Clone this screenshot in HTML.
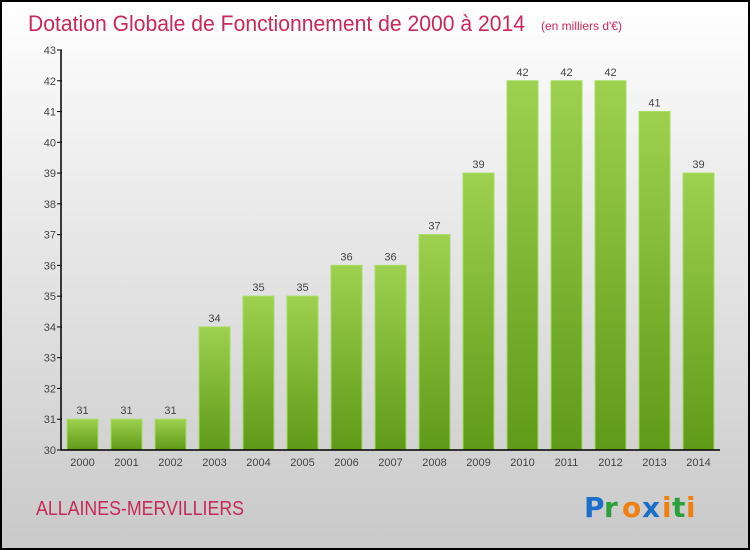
<!DOCTYPE html>
<html><head><meta charset="utf-8"><style>
body{margin:0}
#c{width:750px;height:550px;position:relative;box-sizing:border-box;border:2px solid #000;background:linear-gradient(#fff,#f6f6f6 15%,#c9c9c9);font-family:"Liberation Sans",sans-serif;overflow:hidden}
</style></head><body>
<div id="c">
<svg id="s" width="746" height="546" style="position:absolute;left:0;top:0">
<defs><linearGradient id="g" x1="0" y1="0" x2="0" y2="1"><stop offset="0" stop-color="#9dd14f"/><stop offset="1" stop-color="#5f9a18"/></linearGradient></defs>
<text x="26" y="29" font-size="22" fill="#c8285a" textLength="497" lengthAdjust="spacingAndGlyphs">Dotation Globale de Fonctionnement de 2000 à 2014</text>
<text x="539" y="28" font-size="12" fill="#c8285a">(en milliers d'€)</text>
<text x="34" y="513" font-size="20" fill="#c8285a" textLength="208" lengthAdjust="spacingAndGlyphs">ALLAINES-MERVILLIERS</text>
<g font-size="28" font-family="'DejaVu Sans',sans-serif" font-weight="bold">
<text x="582" y="515" fill="#1a6fc8">P</text><text x="602" y="515" fill="#2aa03a">r</text><text x="620" y="515" fill="#f08010">o</text><text x="640" y="515" fill="#1a6fc8">x</text><text x="660" y="515" fill="#f08010">i</text><text x="670" y="515" fill="#2aa03a">t</text><text x="684" y="515" fill="#f08010">i</text></g>
<g id="plot"></g>
</svg></div>
<script>
const years=["2000","2001","2002","2003","2004","2005","2006","2007","2008","2009","2010","2011","2012","2013","2014"];
const values=[31,31,31,34,35,35,36,36,37,39,42,42,42,41,39];
const yTicks=[30,31,32,33,34,35,36,37,38,39,40,41,42,43];
const ns="http://www.w3.org/2000/svg";
const off=-2;
const y=v=>450+off-(v-30)*(400/13);
const x=i=>82.5+off+i*44;
const p=document.getElementById('plot');
function mk(t,a){const e=document.createElementNS(ns,t);for(const k in a)e.setAttribute(k,a[k]);p.appendChild(e);return e;}
yTicks.forEach(v=>{
 const l=mk('line',{x1:57+off,x2:62+off,y1:y(v),y2:y(v),stroke:'#000'});
 
 
 const t=mk('text',{x:56+off,y:y(v)+4,'font-size':11,fill:'#444','text-anchor':'end'});
 t.textContent=v;
 
 
});
values.forEach((v,i)=>{
 const r=mk('rect',{x:x(i)-15.5,y:y(v),width:31,height:y(30)-y(v),fill:'url(#g)',stroke:'#a6dc60','stroke-width':1});
 
 
 const t=mk('text',{x:x(i),y:y(v)-5,'font-size':11,fill:'#444','text-anchor':'middle'});
 t.textContent=v;
 
 
 const xl=mk('text',{x:x(i),y:y(30)+16,'font-size':11,fill:'#444','text-anchor':'middle'});
 xl.textContent=years[i];
 
 
});
const ya=mk('line',{x1:61+off,x2:61+off,y1:y(43),y2:y(30),stroke:'#000','stroke-width':1.5});


const xa=mk('line',{x1:61+off,x2:720+off,y1:y(30),y2:y(30),stroke:'#000','stroke-width':1.5});


</script>
</body></html>
